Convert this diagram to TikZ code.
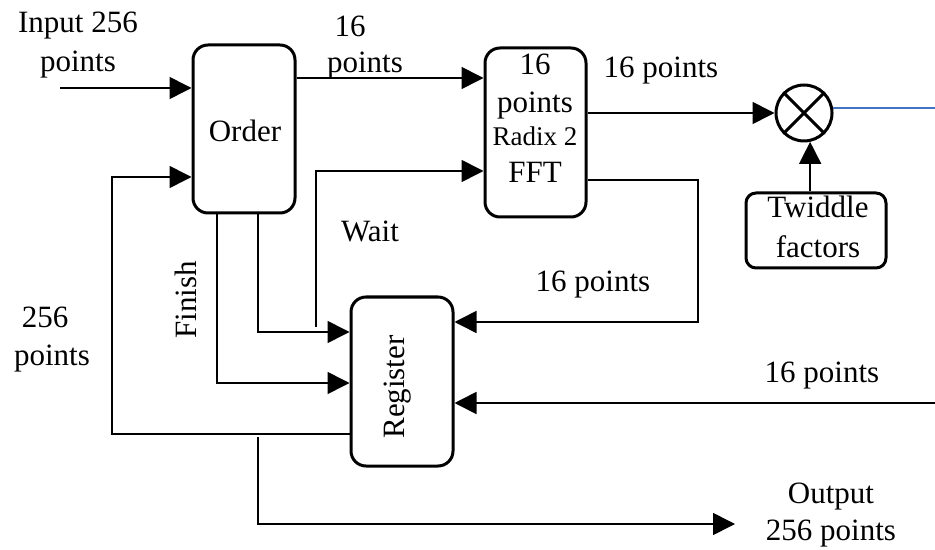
\documentclass[tikz,border=0pt]{standalone}
\usepackage{fontspec}
\setmainfont{Liberation Serif}
\usetikzlibrary{arrows.meta}
\begin{document}
\begin{tikzpicture}[x=0.5pt,y=-0.5pt,
  blk/.style={draw, line width=1.5pt, rounded corners=7.5pt, inner sep=0pt},
  conn/.style={line width=0.8pt},
  arr/.style={conn, -{Triangle[length=11pt,width=11pt]}},
  lbl/.style={font=\fontsize{15.5}{18.5}\selectfont, inner sep=0pt, anchor=base},
  small/.style={font=\fontsize{13.5}{16}\selectfont, inner sep=0pt, anchor=base},
]
\useasboundingbox (0,0) rectangle (935,550);

% blocks
\node[blk, minimum width=51pt, minimum height=84pt] (order) at (244,129) {};
\node[blk, minimum width=50.5pt, minimum height=84.5pt] (fft) at (535.5,132.5) {};
\node[blk, minimum width=51pt, minimum height=84.5pt] (reg) at (402,381.5) {};
\node[blk, rounded corners=5pt, minimum width=70pt, minimum height=37.5pt] (tw) at (816,230.5) {};
\node[draw, circle, line width=1.5pt, minimum size=28pt, inner sep=0pt] (mult) at (804,113) {};
\draw[line width=1.5pt] (mult.north west) -- (mult.south east);
\draw[line width=1.5pt] (mult.north east) -- (mult.south west);

% block texts
\node[lbl] (tOrder) at (245,142) {Order};
\node[lbl] (tF1) at (535,75) {16};
\node[lbl] (tF2) at (535,113) {points};
\node[small] (tF3) at (535,146) {Radix 2};
\node[lbl] (tF4) at (535,183) {FFT};
\node[lbl] (tTw1) at (818,218) {Twiddle};
\node[lbl] (tTw2) at (818,257) {factors};
\node[lbl, rotate=90, anchor=center] (tReg) at (398,387) {Register};

% labels
\node[lbl] (lIn1) at (78,33) {Input 256};
\node[lbl] (lIn2) at (78,72) {points};
\node[lbl] (lA1) at (350,37) {16};
\node[lbl] (lA2) at (365,73) {points};
\node[lbl] (lB) at (661,78) {16 points};
\node[lbl] (lC) at (593,292) {16 points};
\node[lbl] (lWait) at (370,242) {Wait};
\node[lbl, rotate=90] (lFin) at (196,300) {Finish};
\node[lbl] (lL1) at (45,328) {256};
\node[lbl] (lL2) at (52,365) {points};
\node[lbl] (lR) at (822,382) {16 points};
\node[lbl] (lO1) at (831,503) {Output};
\node[lbl] (lO2) at (831,540) {256 points};

% connectors
\coordinate (inS) at (60,88);
\coordinate (waitS) at (316,327);
\coordinate (rightS) at (935,403);
\coordinate (outS) at (258,437);
\coordinate (outE) at (735,524);

\draw[arr] (inS) -- (order.west |- inS);
\draw[arr] (order.east |- 0,78) -- (fft.west |- 0,78);
\draw[arr] (reg.west |- 0,434) -- (112,434) -- (112,177) -- (order.west |- 0,177);
\draw[arr] (order.south -| 217,0) -- (217,383) -- (reg.west |- 0,383);
\draw[arr] (order.south -| 258,0) -- (258,332) -- (reg.west |- 0,332);
\draw[arr] (waitS) -- (316,171) -- (fft.west |- 0,171);
\draw[arr] (fft.east |- mult.west) -- (mult.west);
\draw[line width=1pt, color={rgb,255:red,68;green,114;blue,196}] (mult.10) -- (mult.10 -| 935,0);
\draw[arr] (tw.north -| mult.-78) -- (mult.-78);
\draw[arr] (fft.east |- 0,180) -- (698,180) -- (698,322) -- (reg.east |- 0,322);
\draw[arr] (rightS) -- (reg.east |- rightS);
\draw[arr] (outS) -- (outS |- outE) -- (outE);
\end{tikzpicture}
\end{document}
